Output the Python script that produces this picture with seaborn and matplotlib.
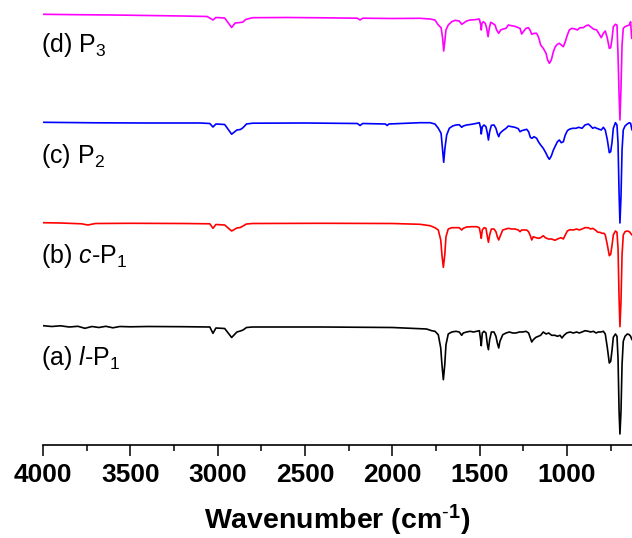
import numpy as np
import pandas as pd
import matplotlib
matplotlib.use("Agg")
import matplotlib.pyplot as plt
from matplotlib.ticker import MultipleLocator
import seaborn as sns

# ---------------- data ----------------
# (a) l-P1  (black)
wn_a = [4000, 3950, 3900, 3850, 3800, 3760, 3720, 3680, 3640, 3600, 3560, 3500, 3400, 3200, 3045,
        3027, 3010, 2960, 2920, 2890, 2870, 2855, 2835, 2800, 2400, 2000,
        1842, 1804, 1775, 1756, 1737, 1723, 1716, 1708, 1700, 1693, 1680, 1660, 1636, 1617, 1603, 1594,
        1575, 1555, 1536, 1517, 1502, 1496, 1491, 1485, 1475, 1464, 1456, 1450, 1443, 1433, 1418, 1407,
        1399, 1391, 1384, 1368, 1349, 1330, 1311, 1292, 1273, 1254, 1235, 1220, 1210, 1202, 1193, 1178,
        1164, 1151, 1136, 1120, 1105, 1088, 1069, 1055, 1040, 1029, 1017, 1002, 983, 964, 945, 930, 914,
        897, 878, 865, 849, 834, 821, 807, 792, 781, 769, 758, 750, 742, 735, 723, 714, 708, 702, 697,
        691, 685, 678, 668, 655, 643, 636, 628]
t_a = [108.3, 107.5, 108.2, 107.0, 107.7, 105.7, 107.5, 106.5, 107.7, 106.2, 107.5, 107.2, 107.5, 107.3, 107.0,
       100.7, 106.0, 105.5, 96.5, 102.0, 103.0, 104.0, 106.5, 107.0, 107.0, 106.5,
       105.3, 105.0, 103.3, 102.7, 99.3, 86.0, 69.3, 54.3, 69.3, 89.3, 100.0, 102.0, 102.7, 102.0, 98.7, 101.0,
       102.0, 102.7, 102.0, 102.7, 103.3, 96.0, 88.3, 101.0, 102.7, 101.0, 89.3, 84.3, 94.3, 102.0, 102.0, 97.7,
       91.0, 86.0, 92.7, 99.3, 101.0, 102.0, 101.0, 101.0, 102.0, 102.0, 102.7, 101.0, 96.0, 92.0, 94.3, 96.7,
       97.7, 98.7, 102.0, 100.0, 101.0, 98.7, 98.7, 97.7, 98.7, 96.0, 98.7, 101.0, 102.0, 101.0, 102.0, 101.0, 102.0,
       103.3, 102.7, 102.0, 102.7, 101.0, 102.0, 102.0, 102.7, 100.0, 86.0, 71.0, 72.7, 84.3, 96.7, 100.0, 97.7, 76.0, 22.7, 0.0,
       22.7, 69.3, 92.7, 97.7, 100.0, 99.3, 97.7, 94.3]

# (b) c-P1  (red)
wn_b = [4000, 3900, 3780, 3743, 3700, 3500, 3200, 3045, 3027, 3010, 2960, 2920, 2890, 2870, 2855, 2835,
        2800, 2400, 2000,
        1842, 1784, 1756, 1737, 1723, 1716, 1708, 1700, 1693, 1680, 1660, 1636, 1617, 1603, 1594, 1575,
        1546, 1517, 1502, 1494, 1491, 1485, 1475, 1464, 1456, 1450, 1443, 1433, 1418, 1407, 1399, 1391,
        1384, 1368, 1349, 1336, 1317, 1298, 1279, 1269, 1260, 1246, 1231, 1220, 1210, 1202, 1193, 1178,
        1164, 1151, 1136, 1124, 1107, 1088, 1069, 1055, 1044, 1033, 1021, 1010, 998, 983, 964, 945, 930,
        914, 897, 878, 865, 853, 838, 823, 811, 800, 788, 781, 769, 758, 750, 742, 735, 723, 714, 708,
        702, 697, 691, 685, 678, 668, 655, 643, 636, 628]
t_b = [104.3, 104.0, 103.2, 102.0, 103.5, 103.7, 103.5, 103.2, 98.7, 102.5, 102.0, 96.0, 99.0, 99.5, 101.0, 103.0,
       103.5, 103.7, 103.5,
       102.7, 101.3, 99.3, 97.0, 87.0, 72.0, 59.7, 72.0, 90.3, 98.0, 99.3, 99.3, 99.3, 97.0, 98.7, 100.0,
       100.3, 100.3, 99.3, 92.0, 88.7, 97.0, 99.3, 98.7, 90.3, 84.7, 92.0, 98.0, 98.0, 95.3, 90.3, 87.0,
       90.3, 97.0, 98.0, 98.7, 98.0, 98.0, 97.0, 95.3, 97.0, 97.0, 97.0, 95.3, 91.3, 87.0, 90.3, 89.3,
       88.7, 89.3, 91.3, 89.3, 88.0, 88.0, 86.7, 88.0, 88.7, 89.3, 88.0, 92.0, 96.0, 97.3, 97.0, 98.0, 97.0,
       98.0, 99.3, 99.3, 98.0, 98.7, 97.0, 94.7, 94.7, 93.7, 93.7, 92.0, 82.0, 71.3, 72.7, 82.0, 92.0, 96.0, 94.7, 78.7,
       28.7, 0.3, 25.3, 72.0, 92.0, 95.3, 96.0, 95.3, 93.7, 92.0]

# (c) P2  (blue)
wn_c = [4000, 3700, 3400, 3100, 3045, 3027, 3010, 2960, 2920, 2890, 2870, 2855, 2835, 2800, 2500, 2200,
        2185, 2170, 2040, 2030, 2020,
        1842, 1784, 1756, 1737, 1721, 1714, 1706, 1699, 1689, 1674, 1655, 1636, 1617, 1603, 1594, 1575,
        1546, 1517, 1502, 1494, 1491, 1485, 1475, 1464, 1456, 1450, 1443, 1433, 1418, 1407, 1399, 1391,
        1384, 1368, 1349, 1336, 1317, 1298, 1279, 1269, 1260, 1246, 1231, 1220, 1210, 1201, 1189, 1174,
        1164, 1151, 1136, 1120, 1111, 1101, 1090, 1078, 1067, 1055, 1044, 1033, 1021, 1010, 998, 987, 968,
        949, 933, 914, 897, 878, 865, 853, 842, 830, 815, 804, 792, 781, 769, 758, 750, 742, 735, 723,
        714, 708, 702, 697, 691, 685, 678, 668, 655, 643, 636, 628]
t_c = [100.7, 100.2, 100.0, 100.0, 99.5, 96.0, 99.0, 98.5, 88.8, 93.0, 93.5, 95.3, 99.0, 99.8, 100.0, 99.5,
       97.5, 99.5, 99.0, 97.5, 99.0,
       100.3, 100.3, 99.0, 94.7, 89.7, 76.3, 60.7, 74.7, 88.0, 94.7, 97.0, 98.0, 98.3, 95.7, 97.0, 98.0,
       98.7, 99.7, 100.3, 94.7, 89.0, 96.3, 98.0, 96.3, 89.7, 83.0, 91.3, 97.7, 98.0, 94.7, 89.7, 86.3,
       89.7, 92.3, 94.7, 97.0, 96.3, 95.7, 94.3, 91.3, 92.3, 93.0, 93.7, 91.3, 85.7, 84.7, 86.3, 84.7,
       81.3, 78.0, 74.7, 69.7, 66.3, 63.7, 67.0, 73.0, 77.0, 81.3, 83.0, 80.3, 81.3, 88.0, 92.3, 93.7, 94.7,
       94.7, 95.7, 94.7, 98.0, 99.0, 97.0, 94.7, 95.7, 94.7, 93.7, 93.0, 95.7, 93.0, 83.0, 70.3, 71.3, 81.3, 94.7, 100.3,
       98.0, 79.7, 29.7, 0.0, 26.3, 73.0, 93.0, 97.0, 99.0, 100.3, 99.7, 93.0]

# (d) P3  (magenta)
wn_d = [4000, 3800, 3600, 3400, 3200, 3060, 3027, 3010, 2960, 2920, 2900, 2870, 2855, 2840, 2800, 2600,
        2400, 2200, 2185, 2170, 2000,
        1842, 1784, 1756, 1737, 1721, 1712, 1706, 1700, 1693, 1680, 1660, 1641, 1617, 1603, 1594, 1575,
        1555, 1527, 1502, 1494, 1491, 1487, 1479, 1468, 1460, 1452, 1445, 1437, 1426, 1412, 1403, 1391,
        1380, 1365, 1349, 1336, 1317, 1298, 1279, 1269, 1260, 1250, 1235, 1221, 1212, 1202, 1189, 1174,
        1162, 1151, 1136, 1120, 1111, 1101, 1090, 1078, 1067, 1055, 1044, 1033, 1021, 1010, 998, 987, 973,
        954, 941, 926, 907, 891, 878, 865, 849, 830, 815, 804, 792, 781, 769, 758, 750, 742, 735, 723,
        714, 708, 702, 697, 691, 685, 678, 668, 655, 643, 636, 630]
t_d = [105.7, 105.3, 105.0, 104.5, 104.0, 103.5, 100.0, 102.5, 102.0, 92.5, 97.0, 97.5, 98.0, 100.5, 102.3, 102.5,
       102.2, 101.8, 100.0, 101.8, 101.5,
       101.7, 101.0, 100.0, 95.0, 92.3, 81.7, 69.0, 78.3, 90.0, 95.0, 98.3, 99.7, 99.0, 95.7, 96.7, 99.0,
       100.0, 100.3, 101.0, 95.0, 90.0, 96.7, 98.3, 96.7, 91.7, 83.3, 91.7, 97.7, 96.7, 95.0, 90.0, 86.7,
       90.0, 91.0, 91.7, 95.0, 94.3, 93.7, 92.3, 91.7, 86.0, 88.3, 91.7, 92.3, 90.0, 85.7, 86.7, 86.7,
       82.3, 75.0, 71.7, 66.7, 60.0, 56.7, 60.0, 68.3, 73.3, 75.7, 76.7, 75.0, 73.3, 78.3, 85.0, 90.0, 91.7,
       91.0, 90.0, 92.3, 92.3, 94.3, 95.0, 93.3, 91.0, 90.0, 85.7, 82.3, 86.7, 89.0, 81.7, 71.7, 72.3, 81.7, 93.3, 95.7,
       95.0, 65.0, 25.0, 0.0, 31.7, 75.0, 91.7, 93.3, 94.3, 95.0, 98.3, 81.7]

series_names = ["(a) l-P1", "(b) c-P1", "(c) P2", "(d) P3"]
series_offsets = [0, 107, 211, 314]
series_colors = ["#000000", "#FF0000", "#0000FF", "#FF00FF"]
label_texts = [r"(a) $\mathit{l}$-P$_1$", r"(b) $\mathit{c}$-P$_1$", r"(c) P$_2$", r"(d) P$_3$"]
label_y = [69, 171, 271, 382]
tick_values = [4000, 3500, 3000, 2500, 2000, 1500, 1000]

# ---------------- build table ----------------
frames = []
for name, wn, t, off in zip(series_names, [wn_a, wn_b, wn_c, wn_d], [t_a, t_b, t_c, t_d], series_offsets):
    frames.append(pd.DataFrame({"wn": wn, "T": np.array(t) + off, "sample": name}))
df = pd.concat(frames, ignore_index=True)

# ---------------- style ----------------
sns.set_theme(style="white")
plt.rcParams["font.family"] = ["Liberation Sans", "DejaVu Sans"]
plt.rcParams["mathtext.fontset"] = "custom"
plt.rcParams["mathtext.rm"] = "Liberation Sans"
plt.rcParams["mathtext.it"] = "Liberation Sans:italic"
plt.rcParams["mathtext.bf"] = "Liberation Sans:bold"
plt.rcParams["text.color"] = "black"
plt.rcParams["axes.labelcolor"] = "black"
plt.rcParams["xtick.color"] = "black"

fig = plt.figure(figsize=(6.32, 5.38), dpi=100)
ax = fig.add_axes([43 / 632, 93 / 538, 589 / 632, 445 / 538])

sns.lineplot(data=df, x="wn", y="T", hue="sample", palette=dict(zip(series_names, series_colors)),
             estimator=None, sort=True, linewidth=1.2, legend=False, ax=ax)

ax.set_xlim(4000, 628)
ax.set_ylim(-11, 434)

for txt, y in zip(label_texts, label_y):
    ax.text(4011, y, txt, fontsize=18, ha="left", va="baseline", color="black", clip_on=False)

for s in ["top", "left", "right"]:
    ax.spines[s].set_visible(False)
ax.spines["bottom"].set_color("black")
ax.spines["bottom"].set_linewidth(1.2)
ax.set_yticks([])
ax.set_xticks(tick_values)
ax.set_xticklabels([str(v) for v in tick_values])
ax.xaxis.set_minor_locator(MultipleLocator(250))
ax.tick_params(axis="x", which="major", direction="out", length=8, width=1.1, color="black",
               labelsize=19, pad=5, bottom=True, labelcolor="black")
ax.tick_params(axis="x", which="minor", direction="out", length=4, width=1.1, color="black", bottom=True)
for lbl in ax.get_xticklabels():
    lbl.set_fontweight("bold")
ax.set_xlabel(r"Wavenumber (cm$^{\mathbf{\text{-}1}}$)", fontsize=20.5, fontweight="bold",
              labelpad=11, color="black")
ax.set_ylabel("")
ax.set_facecolor("white")
ax.grid(False)

fig.savefig("out.png", dpi=100, facecolor="white")
